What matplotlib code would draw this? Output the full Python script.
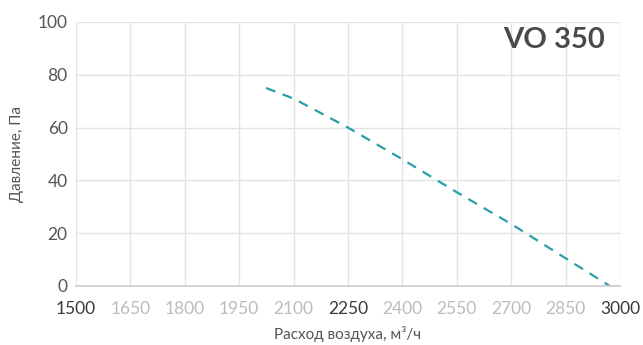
import matplotlib
matplotlib.use("Agg")
import matplotlib.pyplot as plt

flow = [2024, 2100, 2250, 2400, 2550, 2700, 2850, 2972]
pressure = [75, 71, 60, 48, 35.5, 23.5, 10.5, 0]
xticks = [1500, 1650, 1800, 1950, 2100, 2250, 2400, 2550, 2700, 2850, 3000]
yticks = [0, 20, 40, 60, 80, 100]
dark_x = [1500, 2250, 3000]
title = "VO 350"

plt.rcParams['font.family'] = ['Lato', 'DejaVu Sans']

fig = plt.figure(figsize=(6.43, 3.45), dpi=100)
ax = fig.add_axes([76/643, 1-286/345, (620-76)/643, (286-22)/345])

ax.plot(flow, pressure, color='#2a9fa8', lw=1.6, ls=(0, (4.5, 3.5)))
ax.set_xlim(1500, 3000)
ax.set_ylim(0, 100)
ax.set_xticks(xticks)
ax.set_yticks(yticks)
ax.grid(True, color='#e3e3e3', lw=1)
ax.set_axisbelow(True)
for s in ['left', 'top', 'right']:
    ax.spines[s].set_visible(False)
ax.spines['bottom'].set_color('#cfcfcf')
ax.spines['bottom'].set_linewidth(1.3)
ax.tick_params(axis='both', length=0, labelsize=12.5)
ax.tick_params(axis='x', pad=11)
ax.tick_params(axis='y', colors='#555555', pad=6)
for lbl, v in zip(ax.get_xticklabels(), xticks):
    lbl.set_color('#3a3a3a' if v in dark_x else '#bcbcbc')
ax.set_xlabel("Расход воздуха, м³/ч", fontsize=11, color='#555555', labelpad=6)
ax.set_ylabel("Давление, Па", fontsize=11, color='#555555', labelpad=10)
ax.text(0.972, 0.98, title, transform=ax.transAxes, ha='right', va='top',
        fontsize=21, fontweight='bold', color='#4a4a4a')

fig.savefig("out.png", dpi=100)
